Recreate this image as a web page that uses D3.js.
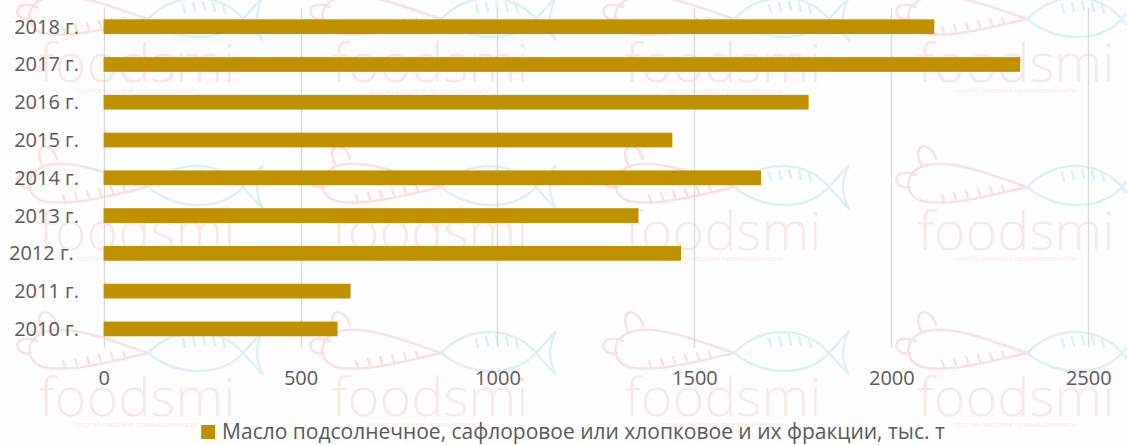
<!DOCTYPE html>
<html>
<head>
<meta charset="utf-8">
<script src="https://cdn.jsdelivr.net/npm/d3@7"></script>
<style>
  html, body { margin: 0; padding: 0; background: #fdfdfd; }
  svg { display: block; }
  text { font-family: "Open Sans", "Noto Sans", sans-serif; fill: #595959; }
</style>
</head>
<body>
<div id="chart"></div>
<script>
'use strict';

// data, top row first
var years = ['2018 г.', '2017 г.', '2016 г.', '2015 г.', '2014 г.', '2013 г.', '2012 г.\u00a0', '2011 г.', '2010 г.'];
var oilValues = [2109, 2327, 1790, 1444, 1669, 1358, 1466, 627, 594];
var xTicks = [0, 500, 1000, 1500, 2000, 2500];
var seriesName = 'Масло подсолнечное, сафлоровое или хлопковое и их фракции, тыс. т';

// watermark tiles (text centre x, baseline y)
var markCols = [137, 430, 723, 1016];
var markRows = [82, 250, 416];

var config = {
    width      : 1127,
    height     : 445,
    left       : 103.6,
    right      : 1088.3,
    top        : 7.8,
    bottom     : 347.8,
    barColor   : '#bf9000',
    gridColor  : '#d9d9d9',
    fontSize   : 20,
    legendY    : 425,
    legendMid  : 573,
    legendText : 723
};

var svg = d3.select('#chart')
    .append('svg')
    .attr('width', config.width)
    .attr('height', config.height);

svg.append('rect')
    .attr('width', config.width)
    .attr('height', config.height)
    .attr('fill', '#fdfdfd');

// --- faint "foodsmi" watermark in the background
var marks = svg.append('g').attr('class', 'watermark');
var tiles = [];
markRows.forEach(function(ry) {
    markCols.forEach(function(cx) { tiles.push([cx, ry]); });
});

var tile = marks.selectAll('g')
    .data(tiles)
    .enter().append('g')
    .attr('transform', function(d) { return 'translate(' + d[0] + ',' + d[1] + ')'; });

tile.append('text')
    .attr('text-anchor', 'middle')
    .style('font-size', '54px')
    .style('font-weight', 300)
    .style('fill', '#fbe6e6')
    .text('foodsmi');

tile.append('text')
    .attr('text-anchor', 'middle')
    .attr('y', 11)
    .style('font-size', '7px')
    .style('fill', '#fbe9e9')
    .text('портал пищевой промышленности');

var logo = tile.append('g')
    .attr('transform', 'translate(6,-63)')
    .attr('fill', 'none')
    .attr('stroke-width', 2.5)
    .attr('stroke-linecap', 'round');

// carrot
logo.append('path')
    .attr('stroke', '#fae0e0')
    .attr('d', 'M5,0 C-30,-12 -70,-28 -95,-22 C-118,-17 -120,8 -100,14 C-72,20 -30,8 5,0 Z' +
               'M-100,-20 C-112,-44 -92,-48 -86,-28 M-106,-12 C-132,-22 -130,4 -112,0' +
               'M-80,8 l2,6 M-68,6 l2,6 M-56,4 l2,6 M-44,2 l2,6 M-32,0 l2,6 M-20,-1 l2,5');

// fish
logo.append('path')
    .attr('stroke', '#ddf0f9')
    .attr('d', 'M5,0 C35,-30 78,-26 100,0 C78,24 35,24 5,0 Z M100,0 L120,-22 C112,-6 112,6 120,22 Z' +
               'M40,-14 l2,8 M50,-16 l2,8 M60,-17 l2,8 M70,-16 l2,8 M80,-13 l2,7');

// --- scales
var x = d3.scaleLinear()
    .domain([0, 2500])
    .range([config.left, config.right]);

var y = d3.scaleBand()
    .domain(years)
    .range([config.top, config.bottom])
    .paddingInner(0.61)
    .paddingOuter(0.305);

// vertical grid lines
svg.append('g')
    .attr('class', 'grid')
    .selectAll('line')
    .data(xTicks)
    .enter().append('line')
    .attr('x1', function(d) { return Math.round(x(d)) + 0.5; })
    .attr('x2', function(d) { return Math.round(x(d)) + 0.5; })
    .attr('y1', config.top)
    .attr('y2', config.bottom)
    .attr('stroke', config.gridColor)
    .attr('stroke-width', 1.3);

// bars
svg.append('g')
    .attr('class', 'bars')
    .selectAll('rect')
    .data(oilValues)
    .enter().append('rect')
    .attr('x', x(0))
    .attr('y', function(d, i) { return y(years[i]); })
    .attr('width', function(d) { return x(d) - x(0); })
    .attr('height', y.bandwidth())
    .attr('fill', config.barColor);

// x axis labels (no line, no tick marks)
var xAxis = d3.axisBottom(x)
    .tickValues(xTicks)
    .tickFormat(d3.format('d'))
    .tickSize(0)
    .tickPadding(0);

var xg = svg.append('g')
    .attr('transform', 'translate(0,' + (config.bottom + 37) + ')')
    .call(xAxis);
xg.select('.domain').remove();
xg.selectAll('text')
    .attr('dy', 0)
    .attr('y', 0)
    .style('font-size', config.fontSize + 'px')
    .style('font-family', '"Open Sans", sans-serif')
    .style('fill', '#595959');

// y axis labels
var yAxis = d3.axisLeft(y)
    .tickSize(0)
    .tickPadding(0);

var yg = svg.append('g')
    .attr('transform', 'translate(79,0)')
    .call(yAxis);
yg.select('.domain').remove();
yg.selectAll('text')
    .attr('dy', 7)
    .style('font-size', config.fontSize + 'px')
    .style('font-family', '"Open Sans", sans-serif')
    .style('fill', '#595959')
    .style('white-space', 'pre');

// legend
var legend = svg.append('g').attr('class', 'legend');
var legendLabel = legend.append('text')
    .attr('y', config.legendY + 14)
    .style('font-size', config.fontSize + 'px')
    .text(seriesName);

// fit the label to the width seen in the picture
var len = legendLabel.node().getComputedTextLength();
var fs = config.fontSize * config.legendText / len;
legendLabel.style('font-size', fs + 'px');
len = legendLabel.node().getComputedTextLength();

var legendWidth = 14 + 7 + len;
var lx = config.legendMid - legendWidth / 2;

legend.append('rect')
    .attr('x', lx)
    .attr('y', config.legendY)
    .attr('width', 14)
    .attr('height', 14)
    .attr('fill', config.barColor);

legendLabel.attr('x', lx + 21);
</script>
</body>
</html>
